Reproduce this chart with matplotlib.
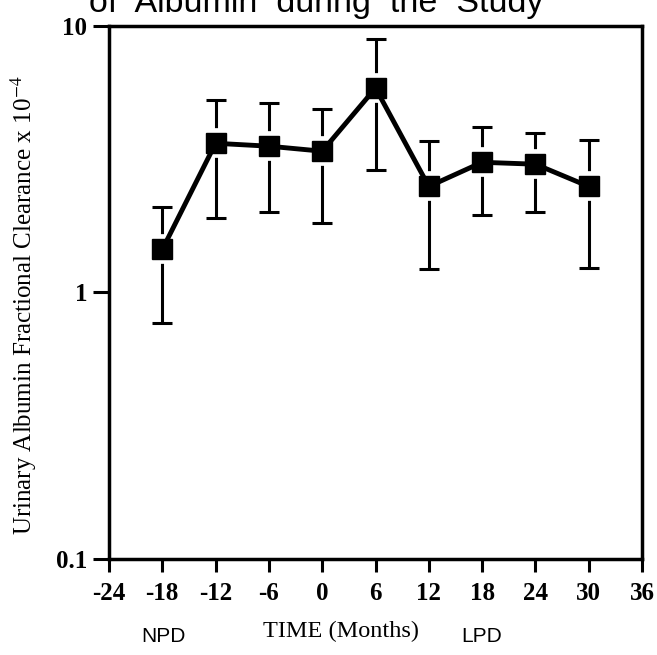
import numpy as np
import matplotlib
matplotlib.use('Agg')
import matplotlib.pyplot as plt

plt.rcParams['mathtext.fontset'] = 'stix'

# data
months = [-18, -12, -6, 0, 6, 12, 18, 24, 30]
clearance = [1.45, 3.63, 3.54, 3.39, 5.85, 2.50, 3.08, 3.03, 2.50]
upper = [2.09, 5.27, 5.13, 4.88, 8.93, 3.70, 4.17, 3.96, 3.73]
lower = [0.77, 1.90, 2.00, 1.82, 2.87, 1.23, 1.95, 2.00, 1.24]
xticks = [-24, -18, -12, -6, 0, 6, 12, 18, 24, 30, 36]
yticks = [0.1, 1, 10]
ytick_labels = ['0.1', '1', '10']

clearance = np.array(clearance)
yerr = [clearance - np.array(lower), np.array(upper) - clearance]

fig = plt.figure(figsize=(6.57, 6.55), dpi=100)
ax = fig.add_axes([0.1659, 0.1466, 0.8113, 0.8137])

# error bars, then a white halo round the markers so the bars stop short
ax.errorbar(months, clearance, yerr=yerr, fmt='none', ecolor='black',
            elinewidth=2.2, capsize=7, capthick=2.2, zorder=1)
ax.plot(months, clearance, 's', color='white', ms=14, mec='white', mew=7, zorder=2)
ax.plot(months, clearance, '-', color='black', lw=3.5, zorder=3)
ax.plot(months, clearance, 's', color='black', ms=14, zorder=4)

ax.set_yscale('log')
ax.set_xlim(-24, 36)
ax.set_ylim(0.1, 10)
ax.set_xticks(xticks)
ax.set_xticklabels([str(t) for t in xticks])
ax.set_yticks(yticks)
ax.set_yticklabels(ytick_labels)
ax.yaxis.set_minor_locator(matplotlib.ticker.NullLocator())

for s in ax.spines.values():
    s.set_linewidth(2.5)
ax.tick_params(axis='x', direction='out', length=9.5, width=2.2, pad=7)
ax.tick_params(axis='y', direction='out', length=11.5, width=2.2, pad=4)
for lab in ax.get_xticklabels() + ax.get_yticklabels():
    lab.set_fontfamily('Liberation Serif')
    lab.set_fontsize(18)
    lab.set_fontweight('bold')

fig.text(24 / 657, 1 - 305 / 655,
         r'Urinary Albumin Fractional Clearance x 10$^{-4}$',
         rotation=90, ha='center', va='center',
         family='Liberation Serif', fontsize=18)
fig.text(341 / 657, 1 - 631 / 655, 'TIME (Months)', ha='center', va='center',
         family='Liberation Serif', fontsize=17.5)
fig.text(163 / 657, 1 - 637 / 655, 'NPD', ha='center', va='center',
         family='Liberation Sans', fontsize=15)
fig.text(482 / 657, 1 - 637 / 655, 'LPD', ha='center', va='center',
         family='Liberation Sans', fontsize=15)
fig.text(316 / 657, 1 - 12 / 655, 'of  Albumin  during  the  Study',
         ha='center', va='baseline', family='Liberation Sans', fontsize=24.5)

fig.savefig('out.png', dpi=100)
